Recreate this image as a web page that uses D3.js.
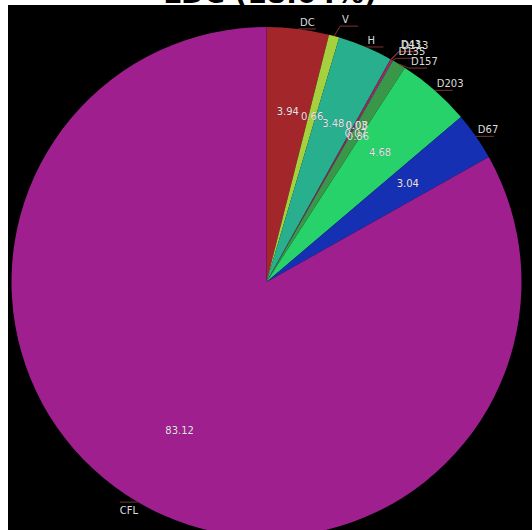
<!DOCTYPE html>
<html>
<head>
<meta charset="utf-8">
<script src="https://cdn.jsdelivr.net/npm/d3@7/dist/d3.min.js"></script>
<style>
  html, body { margin: 0; padding: 0; background: #ffffff; }
  svg { display: block; }
</style>
</head>
<body>
<svg id="chart" width="532" height="530"></svg>
<script>
// Share of each category (percent), drawn clockwise from 12 o'clock
const categories = ["DC", "V", "H", "D43", "D113", "D135", "D157", "D203", "D67", "CFL"];
const shares     = [3.94, 0.66, 3.48, 0.03, 0.08, 0.07, 0.86, 4.68, 3.04, 83.12];
const colors     = ["#a3262b", "#a6d13f", "#28b08e", "#5a3fc8", "#d1303a", "#8a3aa8",
                    "#3a9648", "#27d26b", "#1530b2", "#a01f8e"];
const titleText  = "LDC (18.04%)";

const W = 532, H = 530;
const cx = 266.5, cy = 282, R = 255;

const svg = d3.select("#chart");

// dark plotting panel
svg.append("rect")
  .attr("x", 8).attr("y", 5)
  .attr("width", W - 8).attr("height", H - 5)
  .attr("fill", "#000000");

const rows = categories.map((c, i) => ({ name: c, value: shares[i], color: colors[i] }));

const pie = d3.pie().sort(null).value(d => d.value);
const arcs = pie(rows);

const arc = d3.arc().innerRadius(0).outerRadius(R);
const labelArc = d3.arc().innerRadius(R * 0.675).outerRadius(R * 0.675);
const edgeArc = d3.arc().innerRadius(R).outerRadius(R);

const g = svg.append("g").attr("transform", `translate(${cx},${cy})`);

g.selectAll("path.slice")
  .data(arcs)
  .join("path")
  .attr("class", "slice")
  .attr("d", arc)
  .attr("fill", d => d.data.color);

// value labels inside the slices; the thin wedges get a small nudge
const valueNudge = { "D43": [6, -6], "D113": [6, -6], "D135": [4, 1], "D157": [2, 2] };
const inner = arcs.map(d => {
  const [x, y] = labelArc.centroid(d);
  const n = valueNudge[d.data.name] || [0, 0];
  return { x: x + n[0], y: y + n[1], text: d.data.value.toFixed(2) };
});

g.selectAll("text.val")
  .data(inner)
  .join("text")
  .attr("class", "val")
  .attr("x", d => d.x)
  .attr("y", d => d.y)
  .attr("dy", "0.35em")
  .attr("text-anchor", "middle")
  .attr("font-family", "DejaVu Sans, Verdana, sans-serif")
  .attr("font-size", 10)
  .attr("fill", "#ece4ec")
  .attr("stroke", "#00000055")
  .attr("stroke-width", 0.6)
  .attr("paint-order", "stroke")
  .text(d => d.text);

// outside name labels with short leader lines
const lift = { "V": [6, -10], "D43": [8, -8], "D113": [8, -8], "D135": [4, -2], "D157": [10, 4] };
const outer = arcs.map(d => {
  const [ex, ey] = edgeArc.centroid(d);
  const off = lift[d.data.name] || [0, 0];
  return {
    ex, ey,
    lx: ex + off[0], ly: ey + off[1],
    right: ex >= 0, lower: ey > 0,
    moved: !!lift[d.data.name],
    name: d.data.name
  };
});

const lg = g.append("g");
outer.forEach(o => {
  const len = 18;
  const x0 = o.lx, x1 = o.right ? o.lx + len : o.lx - len;
  if (o.moved) {
    lg.append("line")
      .attr("x1", o.ex).attr("y1", o.ey)
      .attr("x2", x0).attr("y2", o.ly)
      .attr("stroke", "#7e3430").attr("stroke-width", 1);
  }
  lg.append("line")
    .attr("x1", x0).attr("y1", o.ly)
    .attr("x2", x1).attr("y2", o.ly)
    .attr("stroke", "#7e3430").attr("stroke-width", 1);
  lg.append("text")
    .attr("x", o.right ? x0 + 2 : x1)
    .attr("y", o.lower ? o.ly + 12 : o.ly - 3)
    .attr("text-anchor", "start")
    .attr("font-family", "DejaVu Sans, Verdana, sans-serif")
    .attr("font-size", 10)
    .attr("fill", "#dcdcdc")
    .text(o.name);
});

// title, sitting above the dark panel
svg.append("text")
  .attr("x", 270)
  .attr("y", 3)
  .attr("text-anchor", "middle")
  .attr("font-family", "DejaVu Sans, sans-serif")
  .attr("font-weight", "bold")
  .attr("font-size", 28)
  .attr("fill", "#000000")
  .text(titleText);
</script>
</body>
</html>
